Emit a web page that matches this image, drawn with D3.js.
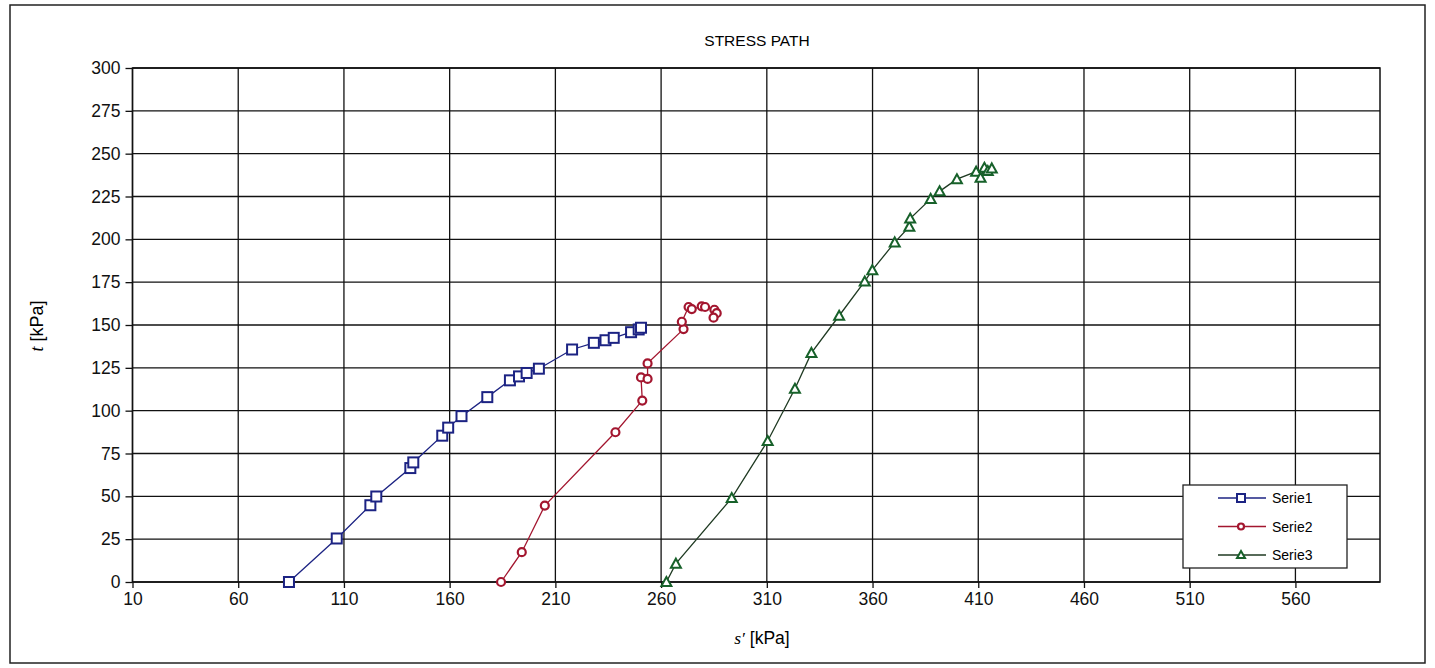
<!DOCTYPE html>
<html>
<head>
<meta charset="utf-8">
<script src="https://cdn.jsdelivr.net/npm/d3@7.9.0/dist/d3.min.js"></script>
<style>
  body { margin: 0; background: #fff; }
  svg { display: block; font-family: 'Liberation Sans', Arial, sans-serif; }
</style>
</head>
<body>
<svg id="chart" width="1435" height="668"></svg>
<script>
// s' [kPa] and t [kPa] for each test
const serie1S = [84.0, 106.6, 122.5, 125.3, 141.4, 142.8, 156.5, 159.3, 165.6, 177.8, 188.5, 192.8, 196.4, 202.2, 217.9, 228.2, 233.7, 237.6, 245.8, 249.4, 250.5];
const serie1T = [0, 25.4, 44.8, 49.9, 66.5, 69.8, 85.4, 90.1, 96.8, 107.9, 117.7, 120.0, 122.0, 124.5, 135.7, 139.6, 141.1, 142.5, 145.8, 147.4, 148.4];

const serie2S = [184.3, 194.1, 205.0, 238.4, 251.1, 250.5, 253.6, 253.6, 270.6, 269.8, 273.0, 274.5, 279.2, 280.8, 285.2, 286.3, 284.8];
const serie2T = [0, 17.4, 44.6, 87.4, 105.9, 119.4, 118.5, 127.6, 147.6, 151.9, 160.5, 159.3, 160.9, 160.5, 158.9, 156.9, 154.3];

const serie3S = [262.5, 267.0, 293.4, 310.4, 323.3, 331.1, 344.2, 356.3, 359.9, 370.5, 377.4, 377.8, 387.5, 391.7, 399.9, 409.0, 411.1, 412.9, 414.5, 416.4];
const serie3T = [0, 10.7, 49.0, 82.3, 112.8, 133.7, 155.4, 175.4, 182.0, 198.2, 207.4, 212.1, 223.6, 228.0, 235.1, 239.5, 236.0, 241.8, 239.9, 241.4];

const xTicks = [10, 60, 110, 160, 210, 260, 310, 360, 410, 460, 510, 560];
const yTicks = [0, 25, 50, 75, 100, 125, 150, 175, 200, 225, 250, 275, 300];

const seriesNames = ['Serie1', 'Serie2', 'Serie3'];
const seriesColors = ['#1c2383', '#a3162f', '#17612a'];
const seriesLines = ['#1c2383', '#a3162f', '#1f3a22'];
const seriesShapes = ['square', 'diamond', 'triangle'];

const series = [
  serie1S.map((s, i) => ({ s, t: serie1T[i] })),
  serie2S.map((s, i) => ({ s, t: serie2T[i] })),
  serie3S.map((s, i) => ({ s, t: serie3T[i] })),
];

const svg = d3.select('#chart');

const x = d3.scaleLinear().domain([10, 600]).range([132.5, 1380]);
const y = d3.scaleLinear().domain([0, 300]).range([582, 68]);

// outer frame
svg.append('rect')
  .attr('x', 10).attr('y', 5)
  .attr('width', 1415).attr('height', 658)
  .attr('fill', 'none').attr('stroke', '#222').attr('stroke-width', 1.5);

// title
svg.append('text')
  .attr('x', 757).attr('y', 46)
  .attr('text-anchor', 'middle')
  .attr('font-size', 15.5)
  .text('STRESS PATH');

// grid
const grid = svg.append('g').attr('stroke', '#111').attr('stroke-width', 1.3);
yTicks.forEach((v) => {
  grid.append('line')
    .attr('x1', x(10)).attr('x2', x(600))
    .attr('y1', y(v)).attr('y2', y(v));
});
xTicks.forEach((v) => {
  grid.append('line')
    .attr('x1', x(v)).attr('x2', x(v))
    .attr('y1', y(0)).attr('y2', y(300));
});
svg.append('rect')
  .attr('x', x(10)).attr('y', y(300))
  .attr('width', x(600) - x(10)).attr('height', y(0) - y(300))
  .attr('fill', 'none').attr('stroke', '#111').attr('stroke-width', 1.5);

// axes
const xAxis = svg.append('g')
  .attr('transform', `translate(0,${y(0)})`)
  .call(d3.axisBottom(x).tickValues(xTicks).tickSize(6).tickPadding(5).tickFormat(d3.format('d')));
const yAxis = svg.append('g')
  .attr('transform', `translate(${x(10)},0)`)
  .call(d3.axisLeft(y).tickValues(yTicks).tickSize(7).tickPadding(5).tickFormat(d3.format('d')));
[xAxis, yAxis].forEach((ax) => {
  ax.select('.domain').remove();
  ax.selectAll('line').attr('stroke', '#111').attr('stroke-width', 1.3);
  ax.selectAll('text')
    .attr('font-size', 17.5)
    .attr('fill', '#111')
    .attr('font-family', "'Liberation Sans', Arial, sans-serif");
});

// axis titles
const xTitle = svg.append('text')
  .attr('x', 762).attr('y', 644)
  .attr('text-anchor', 'middle')
  .attr('font-size', 17.5);
xTitle.append('tspan')
  .attr('font-family', "'Liberation Serif', 'Times New Roman', serif")
  .attr('font-style', 'italic')
  .text('s′');
xTitle.append('tspan').text(' [kPa]');

const yTitle = svg.append('text')
  .attr('transform', 'translate(43,326) rotate(-90)')
  .attr('text-anchor', 'middle')
  .attr('font-size', 18);
yTitle.append('tspan')
  .attr('font-family', "'Liberation Serif', 'Times New Roman', serif")
  .attr('font-style', 'italic')
  .text('t');
yTitle.append('tspan').text(' [kPa]');

// markers
function drawMarker(g, shape, color, cx, cy, size) {
  if (shape === 'square') {
    g.append('rect')
      .attr('x', cx - size / 2).attr('y', cy - size / 2)
      .attr('width', size).attr('height', size)
      .attr('fill', '#fff').attr('stroke', color).attr('stroke-width', 2);
  } else if (shape === 'diamond') {
    g.append('circle')
      .attr('cx', cx).attr('cy', cy).attr('r', size / 2 - 0.5)
      .attr('fill', '#fff').attr('stroke', color).attr('stroke-width', 2.2);
  } else {
    const h = size;
    g.append('path')
      .attr('d', `M${cx},${cy - h / 2}L${cx + h / 2},${cy + h / 2 - 1}L${cx - h / 2},${cy + h / 2 - 1}Z`)
      .attr('fill', '#fff').attr('stroke', color).attr('stroke-width', 2);
  }
}

const line = d3.line().x((d) => x(d.s)).y((d) => y(d.t));
const markerSizes = [10, 9, 10];

series.forEach((data, i) => {
  const g = svg.append('g');
  g.append('path')
    .datum(data)
    .attr('d', line)
    .attr('fill', 'none')
    .attr('stroke', seriesLines[i])
    .attr('stroke-width', 1.3);
  data.forEach((d) => drawMarker(g, seriesShapes[i], seriesColors[i], x(d.s), y(d.t), markerSizes[i]));
});

// legend
const legend = svg.append('g');
legend.append('rect')
  .attr('x', 1183).attr('y', 485)
  .attr('width', 164).attr('height', 83)
  .attr('fill', '#fff').attr('stroke', '#222').attr('stroke-width', 1.3);
seriesNames.forEach((name, i) => {
  const ly = 498 + i * 28.5;
  legend.append('line')
    .attr('x1', 1218).attr('x2', 1266)
    .attr('y1', ly).attr('y2', ly)
    .attr('stroke', seriesLines[i]).attr('stroke-width', 1.3);
  drawMarker(legend, seriesShapes[i], seriesColors[i], 1241, ly, i === 1 ? 7 : 8);
  legend.append('text')
    .attr('x', 1272).attr('y', ly + 5)
    .attr('font-size', 14)
    .text(name);
});
</script>
</body>
</html>
